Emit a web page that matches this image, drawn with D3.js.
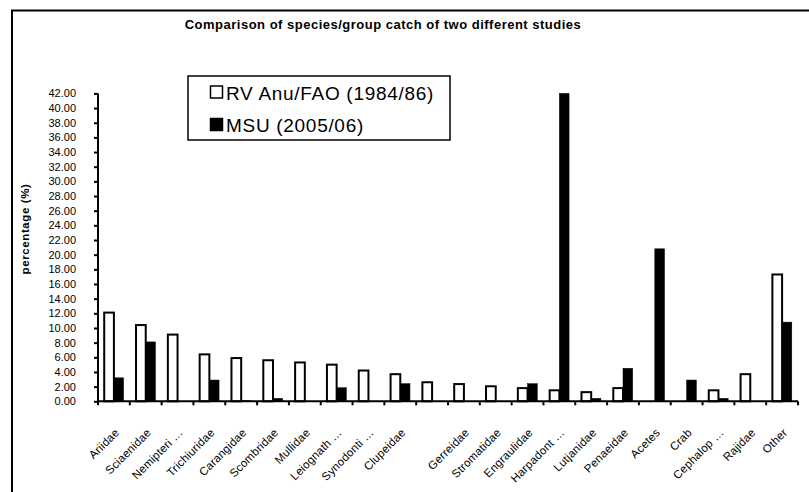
<!DOCTYPE html>
<html>
<head>
<meta charset="utf-8">
<script src="https://cdn.jsdelivr.net/npm/d3@7"></script>
<style>
  html, body { margin: 0; padding: 0; background: #fff; }
  svg { display: block; font-family: Arial, "Liberation Sans", sans-serif; }
</style>
</head>
<body>
<svg id="chart" width="809" height="492"></svg>
<script>
const categories = ["Ariidae","Sciaenidae","Nemipteri …","Trichiuridae","Carangidae","Scombridae","Mullidae","Leiognath …","Synodonti …","Clupeidae","","Gerreidae","Stromatidae","Engraulidae","Harpadont …","Lutjanidae","Penaeidae","Acetes","Crab","Cephalop …","Rajidae","Other"];
const rvAnu = [12.1, 10.4, 9.1, 6.4, 5.9, 5.6, 5.3, 5.0, 4.2, 3.7, 2.6, 2.35, 2.05, 1.8, 1.5, 1.25, 1.8, 0, 0, 1.5, 3.7, 17.3];
const msu   = [3.2, 8.1, 0, 2.9, 0.1, 0.4, 0, 1.85, 0, 2.4, 0, 0, 0, 2.4, 42.0, 0.4, 4.5, 20.8, 2.9, 0.4, 0, 10.8];
const seriesNames = ["RV Anu/FAO (1984/86)", "MSU (2005/06)"];
const yTicks = d3.range(0, 42.01, 2);
const title = "Comparison of species/group catch of two different studies";
const yTitle = "percentage (%)";

const svg = d3.select("#chart");
const pLeft = 98, pRight = 798, pTop = 93.4, pBottom = 401.3;

// frame
svg.append("rect").attr("x", 12).attr("y", 10.5).attr("width", 830).attr("height", 520)
  .attr("fill", "none").attr("stroke", "#000").attr("stroke-width", 2);

const idx = d3.range(categories.length);
const x = d3.scaleBand().domain(idx).range([pLeft, pRight]).paddingInner(0).paddingOuter(0);
const xs = d3.scaleBand().domain([0, 1]).range([0, x.bandwidth()]).paddingInner(0).paddingOuter(0.64);
const y = d3.scaleLinear().domain([0, 42]).range([pBottom, pTop]);

// y axis
const yAxis = svg.append("g").attr("transform", `translate(${pLeft},0)`)
  .call(d3.axisLeft(y).tickValues(yTicks).tickFormat(d3.format(".2f")).tickSize(4).tickPadding(18));
yAxis.select(".domain").attr("stroke-width", 2).attr("d", `M0,${pTop}V${pBottom}`);
yAxis.selectAll(".tick line").attr("stroke-width", 2);
yAxis.selectAll("text").attr("font-size", "11px").attr("font-family", "Arial, 'Liberation Sans', sans-serif").attr("fill", "#000");

// bars
const data = [];
idx.forEach(i => {
  data.push({i, s: 0, v: rvAnu[i]});
  data.push({i, s: 1, v: msu[i]});
});
svg.append("g").selectAll("rect").data(data.filter(d => d.v > 0)).join("rect")
  .attr("x", d => x(d.i) + xs(d.s))
  .attr("y", d => y(d.v))
  .attr("width", xs.bandwidth())
  .attr("height", d => y(0) - y(d.v))
  .attr("fill", d => d.s === 0 ? "#fff" : "#000")
  .attr("stroke", "#000")
  .attr("stroke-width", d => d.s === 0 ? 2 : 0.5);

// x axis
const xAxis = svg.append("g").attr("transform", `translate(0,${pBottom})`)
  .call(d3.axisBottom(x).tickSize(0).tickFormat(""));
xAxis.select(".domain").attr("stroke-width", 2).attr("d", `M${pLeft},0H${pRight}`);
const bounds = idx.map(i => x(i)).concat([x(idx[idx.length - 1]) + x.bandwidth()]);
xAxis.selectAll("line.btick").data(bounds).join("line").attr("class", "btick")
  .attr("x1", d => d).attr("x2", d => d).attr("y1", 0).attr("y2", 4)
  .attr("stroke", "#000").attr("stroke-width", 2);
xAxis.selectAll("text.xlab").data(idx).join("text").attr("class", "xlab")
  .attr("transform", i => `translate(${x(i) + x.bandwidth() / 2 + 6},32) rotate(-45)`)
  .attr("text-anchor", "end")
  .attr("font-size", "11.5px")
  .attr("letter-spacing", "0.2px")
  .attr("fill", "#000")
  .text(i => categories[i]);

// title
svg.append("text").attr("x", 383).attr("y", 28.5).attr("text-anchor", "middle")
  .attr("font-size", "13px").attr("font-weight", "bold").attr("letter-spacing", "0.5px").text(title);

// y title
svg.append("text").attr("transform", "translate(29,229) rotate(-90)").attr("text-anchor", "middle")
  .attr("font-size", "11.5px").attr("font-weight", "bold").attr("letter-spacing", "0.6px").text(yTitle);

// legend
const lg = svg.append("g");
lg.append("rect").attr("x", 188).attr("y", 76).attr("width", 262).attr("height", 64)
  .attr("fill", "#fff").attr("stroke", "#000").attr("stroke-width", 1.5);
seriesNames.forEach((name, k) => {
  const yy = 86 + k * 32.5;
  lg.append("rect").attr("x", 210.5).attr("y", yy).attr("width", 12).attr("height", 12)
    .attr("fill", k === 0 ? "#fff" : "#000").attr("stroke", "#000").attr("stroke-width", 1.5);
  lg.append("text").attr("x", 226).attr("y", yy + 13.5).attr("font-size", "19px").attr("letter-spacing", "0.7px").attr("fill", "#000").text(name);
});
</script>
</body>
</html>
